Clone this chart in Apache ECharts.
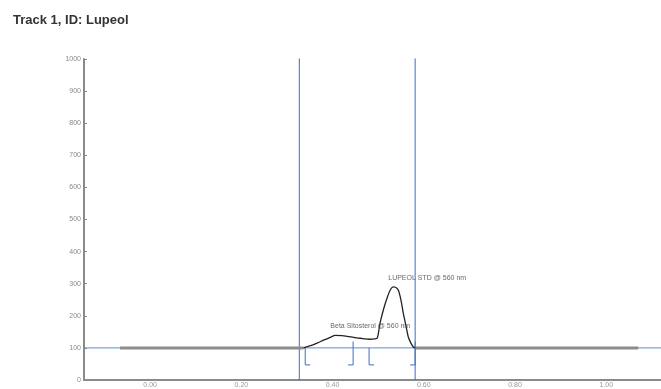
<!DOCTYPE html>
<html>
<head>
<meta charset="utf-8">
<script src="https://cdn.jsdelivr.net/npm/echarts@6/dist/echarts.min.js"></script>
<style>
  html, body { margin: 0; padding: 0; background: #fff; }
  #chart { width: 661px; height: 389px; }
</style>
</head>
<body>
<div id="chart"></div>
<script>
// densitogram, Rf vs AU
const xTicks = [0.0, 0.2, 0.4, 0.6, 0.8, 1.0]
const yTicks = [0, 100, 200, 300, 400, 500, 600, 700, 800, 900, 1000]
const baselineLevel = 100
const trackStart = -0.066
const trackEnd = 1.07
const windowLines = [0.327, 0.581]  // blue vertical integration limits
// peak trace [Rf, AU]
const peakRf = [0.336, 0.350, 0.366, 0.380, 0.395, 0.406, 0.420, 0.432, 0.446, 0.461, 0.482, 0.492, 0.498, 0.504, 0.512, 0.520, 0.527, 0.533, 0.538, 0.544, 0.550, 0.555, 0.561, 0.566, 0.572, 0.577, 0.581]
const peakAU = [100, 106, 115, 124, 133, 139, 138, 136, 133, 130, 127, 128, 131, 177, 222, 258, 282, 290, 289, 280, 248, 208, 168, 134, 114, 103, 100]
// peak start / end markers
const markStarts = [0.340, 0.480]
const markEnds = [0.445, 0.581]
const peakNames = ['Beta Sitosterol @ 560 nm', 'LUPEOL STD @ 560 nm']
const peakTops = [[0.406, 139], [0.533, 290]]

const chart = echarts.init(document.getElementById('chart'))

const bracketSeries = []
markStarts.forEach(x => {
  bracketSeries.push({ type: 'line', symbol: 'none', silent: true, z: 4,
    lineStyle: { color: '#3d6fc4', width: 1 },
    data: [[x, baselineLevel], [x, 47], [x + 0.011, 47]] })
})
markEnds.forEach(x => {
  bracketSeries.push({ type: 'line', symbol: 'none', silent: true, z: 4,
    lineStyle: { color: '#3d6fc4', width: 1 },
    data: [[x, baselineLevel + 20], [x, 47], [x - 0.011, 47]] })
})

const option = {
  animation: false,
  title: {
    text: 'Track 1, ID: Lupeol',
    left: 8, top: 9,
    textStyle: { fontFamily: 'Liberation Sans', fontSize: 13, fontWeight: 'bold', color: '#333' }
  },
  grid: { left: 84, right: 0, top: 59, bottom: 9 },
  xAxis: {
    type: 'value',
    min: -0.145, max: 1.12,
    splitLine: { show: false },
    axisLine: { onZero: false, lineStyle: { color: '#8a8a8a', width: 2 } },
    axisTick: { show: false },
    axisLabel: {
      customValues: xTicks,
      formatter: v => v.toFixed(2),
      fontSize: 7, color: '#999', margin: 2,
      fontFamily: 'Liberation Sans'
    }
  },
  yAxis: {
    type: 'value',
    min: 0, max: 1000, interval: 100,
    splitLine: { show: false },
    axisLine: { show: true, onZero: false, lineStyle: { color: '#8a8a8a', width: 2 } },
    axisTick: { show: true, inside: true, length: 3, lineStyle: { color: '#8a8a8a' } },
    axisLabel: { fontSize: 7, color: '#888', margin: 3, fontFamily: 'Liberation Sans',
      customValues: yTicks, formatter: v => String(v) }
  },
  series: [
    { // blue baseline
      type: 'line', symbol: 'none', silent: true, z: 2,
      lineStyle: { color: '#5b8ad8', width: 1 },
      data: [[-0.145, baselineLevel], [1.12, baselineLevel]]
    },
    ...windowLines.map(x => ({
      type: 'line', symbol: 'none', silent: true, z: 2,
      lineStyle: { color: '#3a6cc8', width: 1 },
      data: [[x, 0], [x, 1004]]
    })),
    { // gray track left of window
      type: 'line', symbol: 'none', silent: true, z: 3,
      lineStyle: { color: '#8c8c8c', width: 3 },
      data: [[trackStart, baselineLevel], [peakRf[0], baselineLevel]]
    },
    { // gray track right of window
      type: 'line', symbol: 'none', silent: true, z: 3,
      lineStyle: { color: '#8c8c8c', width: 3 },
      data: [[peakRf[peakRf.length - 1], baselineLevel], [trackEnd, baselineLevel]]
    },
    { // peaks
      type: 'line', symbol: 'none', silent: true, z: 5, smooth: 0.3,
      lineStyle: { color: '#222', width: 1.3 },
      data: peakRf.map((x, i) => [x, peakAU[i]])
    },
    ...bracketSeries,
    { // peak names
      type: 'scatter', symbolSize: 0, silent: true, z: 6,
      data: peakTops.map((p, i) => ({ value: p, name: peakNames[i] })),
      label: {
        show: true, position: 'right', distance: 0,
        offset: [-5, -9],
        formatter: p => p.name,
        fontSize: 7, color: '#444', fontFamily: 'Liberation Sans'
      }
    }
  ]
}
chart.setOption(option)
</script>
</body>
</html>
